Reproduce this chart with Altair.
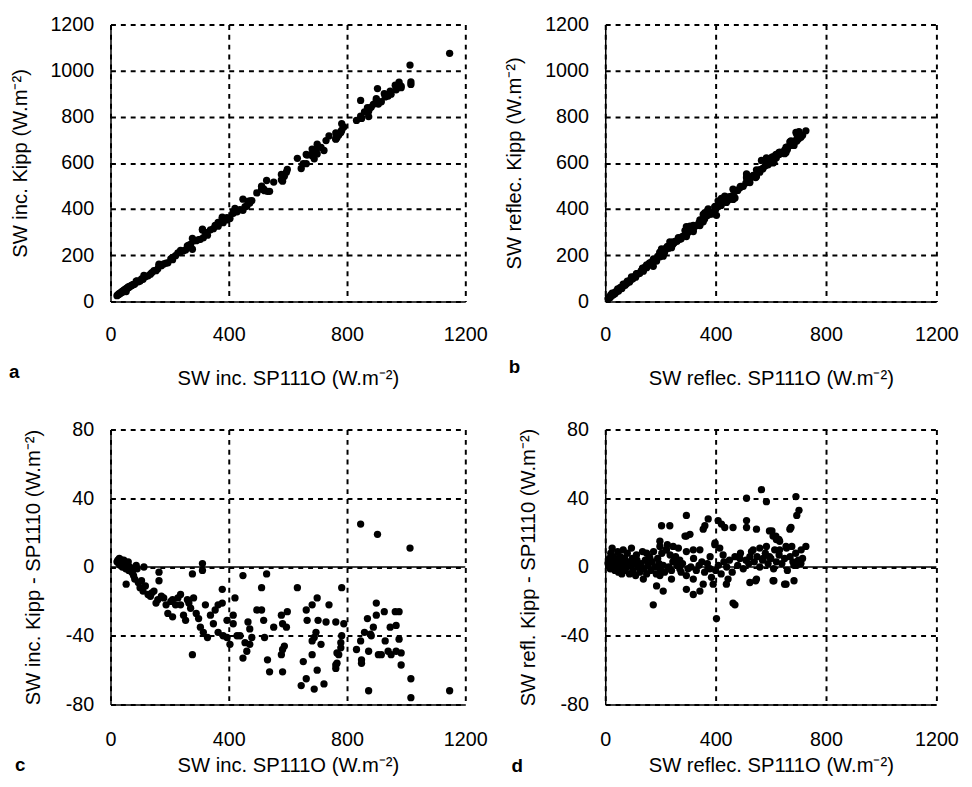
import altair as alt
import pandas as pd

FONT = "Liberation Sans"

# Incoming short-wave: SP1110 reading and Kipp - SP1110 difference (W m-2)
inc_sp = [22, 25, 28, 30, 33, 35, 38, 40, 42, 45, 48, 50, 52, 55, 58, 60, 62, 65, 68, 72,
          75, 78, 53, 82, 87, 90, 94, 100, 105, 113, 110, 118, 127, 135, 140, 147, 154, 160, 164, 164,
          172, 180, 188, 194, 204, 210, 210, 220, 228, 237, 237, 247, 254, 260, 265, 271, 277, 277, 281, 290,
          298, 304, 311, 311, 314, 321, 328, 338, 348, 354, 364, 364, 378, 378, 381, 394, 394, 404, 415, 415,
          421, 428, 438, 448, 448, 455, 461, 465, 471, 471, 478, 495, 511, 511, 518, 521, 528, 531, 538, 552,
          578, 582, 598, 595, 578, 582, 588, 582, 632, 645, 652, 662, 662, 665, 682, 682, 682, 689, 689, 695,
          699, 699, 702, 712, 722, 729, 739, 762, 762, 766, 782, 789, 782, 779, 779, 772, 766, 762, 846, 903,
          1013, 846, 832, 849, 849, 899, 899, 869, 889, 859, 879, 882, 926, 963, 976, 946, 966, 976, 929, 873,
          906, 916, 939, 949, 966, 983, 983, 873, 1016, 1016, 1147]
inc_diff = [3, 4, 2, 5, 1, 3, 4, 0, 2, 4, 1, 3, -1, 2, 0, 3, -2, 0, -1, -3,
            -2, -5, -10, -7, 1, -1, -9, -12, -8, 0, -14, -11, -16, -17, -15, -14, -21, -19, -3, -8,
            -17, -18, -22, -27, -20, -19, -29, -22, -18, -16, -22, -28, -31, -19, -21, -24, -4, -51, -18, -27,
            -30, -35, 2, -2, -38, -22, -41, -28, -33, -25, -22, -38, -21, -13, -40, -41, -31, -45, -28, -33,
            -18, -40, -40, -5, -53, -44, -49, -32, -36, -45, -41, -25, -25, -12, -31, -41, -4, -54, -61, -35,
            -28, -33, -26, -35, -51, -48, -46, -61, -12, -69, -55, -25, -65, -31, -22, -43, -51, -41, -71, -38,
            -18, -60, -31, -45, -68, -32, -22, -32, -57, -50, -12, -33, -40, -44, -47, -51, -56, -59, 25, 19,
            11, -43, -48, -54, -56, -21, -28, -30, -35, -38, -39, -40, -26, -26, -26, -35, -34, -42, -43, -49,
            -51, -51, -49, -51, -49, -50, -57, -72, -65, -76, -72]

# Reflected short-wave: SP1110 reading and Kipp - SP1110 difference (W m-2)
ref_sp = [10, 15, 18, 20, 23, 25, 28, 30, 35, 38, 40, 45, 48, 50, 55, 58, 60, 65, 65, 70,
          72, 78, 80, 85, 88, 92, 95, 98, 100, 105, 110, 113, 115, 120, 125, 130, 135, 138, 140, 145,
          150, 150, 155, 160, 162, 165, 170, 174, 175, 180, 185, 186, 190, 195, 198, 198, 198, 200, 204, 205,
          210, 210, 215, 220, 222, 225, 230, 234, 235, 240, 240, 245, 246, 250, 255, 260, 265, 270, 270, 275,
          280, 289, 294, 294, 294, 294, 294, 300, 307, 310, 319, 319, 319, 320, 330, 340, 343, 343, 350, 355,
          355, 360, 361, 370, 373, 379, 380, 385, 391, 397, 398, 400, 403, 409, 410, 415, 420, 421, 427, 430,
          433, 439, 440, 445, 450, 460, 463, 463, 470, 470, 480, 488, 490, 500, 510, 512, 512, 512, 520, 524,
          524, 530, 536, 540, 545, 548, 548, 550, 560, 560, 566, 570, 572, 580, 584, 584, 590, 595, 595, 600,
          604, 608, 608, 610, 611, 614, 618, 620, 620, 629, 630, 632, 632, 640, 650, 650, 655, 655, 657, 660,
          669, 670, 673, 676, 680, 684, 684, 690, 691, 694, 694, 700, 702, 709, 710, 715, 727]
ref_diff = [2, 5, -1, 8, 3, 11, 0, 6, -2, 4, 1, 9, -3, 3, 6, 0, -4, 2, 10, 5,
            -2, 0, 8, 3, -4, 1, 11, 5, -2, 2, -5, 7, 4, 0, -3, 2, 9, -7, -1, 4,
            -4, 8, 1, 6, 5, -2, 3, -22, 9, 0, -4, -11, 5, 2, 15, 12, -5, -2, 24, 8,
            1, -14, -3, 10, 10, 13, 0, 24, 7, -2, -7, 3, 12, 4, 6, 1, 11, 4, -1, -3,
            2, 18, 30, 9, -5, -13, 18, -1, 19, 0, 10, -7, -16, 5, -2, 1, 10, -14, 3, 22,
            -10, -3, 24, 2, 28, -1, 6, -6, -10, 13, 14, -2, -30, 27, 1, 11, -4, 25, 7, 3,
            23, -10, 0, -7, 4, -3, 23, -21, -22, 6, 1, 5, 8, -1, 4, 40, 27, 23, 2, -9,
            6, 9, 10, 3, -8, 22, -7, 6, 0, 11, 45, 4, 5, 8, 38, 12, 2, 21, 6, 5,
            21, 18, -8, -1, -8, 10, 18, 16, 3, 16, 7, 15, 10, 2, 5, -10, 12, -10, 11, -2,
            22, 6, 23, 12, 3, 1, -8, 8, 41, 30, 1, 4, 33, 2, 10, 5, 12]

df_inc = pd.DataFrame({"sp": inc_sp, "diff": inc_diff})
df_inc["kipp"] = df_inc["sp"] + df_inc["diff"]
df_ref = pd.DataFrame({"sp": ref_sp, "diff": ref_diff})
df_ref["kipp"] = df_ref["sp"] + df_ref["diff"]

UNIT = " (W.m\u207b\u00b2)"
x_ticks = [0, 400, 800, 1200]
y_ticks_main = [0, 200, 400, 600, 800, 1000, 1200]
y_ticks_diff = [-80, -40, 0, 40, 80]


def make_panel(df, ycol, ydom, yvals, xtitle, ytitle, w, h, letter, lx, ly,
               xlp, xtp, ytp, zero):
    xaxis = alt.Axis(values=x_ticks, title=xtitle, labelPadding=xlp,
                     titlePadding=xtp, labelFlush=False, grid=True,
                     labelExpr="'' + datum.value")
    yaxis = alt.Axis(values=yvals, title=ytitle, labelPadding=17,
                     titlePadding=ytp, grid=True, labelExpr="'' + datum.value")
    pts = alt.Chart(df).mark_circle(size=55, color="black", opacity=1).encode(
        x=alt.X("sp:Q", scale=alt.Scale(domain=[0, 1200], nice=False, zero=False), axis=xaxis),
        y=alt.Y(f"{ycol}:Q", scale=alt.Scale(domain=ydom, nice=False, zero=False), axis=yaxis),
    )
    layers = [pts]
    if zero:
        layers.append(
            alt.Chart(pd.DataFrame({"z": [0]})).mark_rule(color="black", strokeWidth=1.5)
            .encode(y=alt.datum(0))
        )
    lab = alt.Chart(pd.DataFrame({"t": [letter]})).mark_text(
        align="left", baseline="alphabetic", font=FONT, fontSize=19,
        fontWeight="bold", color="black"
    ).encode(x=alt.value(lx), y=alt.value(ly), text="t:N")
    layers.append(lab)
    return alt.layer(*layers).properties(width=w, height=h)


pa = make_panel(df_inc, "kipp", [0, 1200], y_ticks_main,
                "SW inc. SP111O" + UNIT, "SW inc. Kipp" + UNIT,
                360, 281, "a", -103, 359, 24, 24, 20, False)
pb = make_panel(df_ref, "kipp", [0, 1200], y_ticks_main,
                "SW reflec. SP111O" + UNIT, "SW reflec. Kipp" + UNIT,
                336, 281, "b", -98, 354, 24, 24, 20, False)
pc = make_panel(df_inc, "diff", [-80, 80], y_ticks_diff,
                "SW inc. SP111O" + UNIT, "SW inc. Kipp - SP1110" + UNIT,
                360, 279, "c", -97, 346, 26, 6, 22, True)
pdd = make_panel(df_ref, "diff", [-80, 80], y_ticks_diff,
                 "SW reflec. SP111O" + UNIT, "SW refl. Kipp - SP1110" + UNIT,
                 336, 279, "d", -95, 347, 26, 6, 22, True)

chart = alt.concat(
    pa, pb, pc, pdd, columns=2, spacing={"row": 130, "column": 142}, bounds="flush"
).properties(
    padding={"left": 0, "top": 0, "right": 5, "bottom": 5},
    background="white",
).configure_axis(
    labelFont=FONT, titleFont=FONT, labelFontSize=20, titleFontSize=20.5,
    labelColor="black", titleColor="black", titleFontWeight="normal",
    domainColor="black", domainWidth=1.5, ticks=False, tickSize=0,
    gridColor="black", gridDash=[5, 5], gridWidth=2, gridOpacity=1,
).configure_view(stroke="transparent")

chart.save("out.html", embed_options={"renderer": "svg", "actions": False})
